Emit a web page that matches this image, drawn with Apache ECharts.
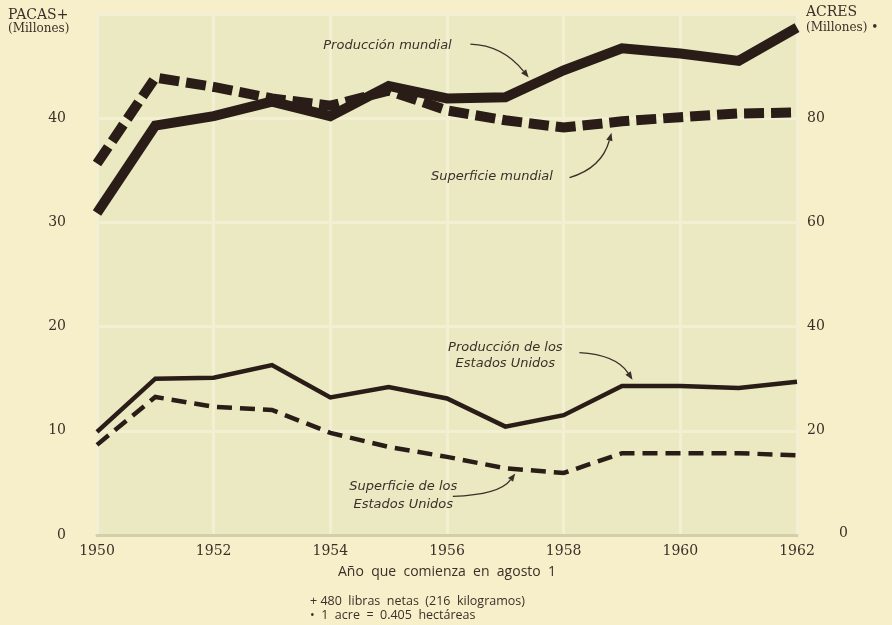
<!DOCTYPE html>
<html>
<head>
<meta charset="utf-8">
<script src="https://cdn.jsdelivr.net/npm/echarts@6/dist/echarts.min.js"></script>
<style>
  html, body { margin: 0; padding: 0; background: #f6efc9; }
  #chart { width: 892px; height: 625px; }
</style>
</head>
<body>
<div id="chart"></div>
<script>
// Algodón: producción (millones de pacas) y superficie (millones de acres)
const years = [1950, 1951, 1952, 1953, 1954, 1955, 1956, 1957, 1958, 1959, 1960, 1961, 1962];
const produccionMundial = [30.9, 39.3, 40.2, 41.6, 40.2, 43.1, 41.9, 42.0, 44.6, 46.7, 46.2, 45.5, 48.7];
const superficieMundial = [71.3, 87.8, 86.0, 83.8, 82.4, 85.3, 81.5, 79.6, 78.2, 79.4, 80.2, 80.9, 81.1];
const produccionEEUU = [9.9, 15.0, 15.1, 16.3, 13.2, 14.2, 13.1, 10.4, 11.5, 14.3, 14.3, 14.1, 14.7];
const superficieEEUU = [17.3, 26.5, 24.6, 24.0, 19.6, 16.9, 15.0, 12.8, 11.9, 15.7, 15.7, 15.7, 15.3];
const pacasTicks = [0, 10, 20, 30, 40, 50];
const acresTicks = [0, 20, 40, 60, 80, 100];

const INK = '#2a1c16';
const TEXT = '#3a302a';
const SERIF = '"DejaVu Serif", "Liberation Serif", serif';
const SANS = '"Open Sans", "Lato", sans-serif';
const NOTE = '"DejaVu Sans", "Open Sans", sans-serif';

const pairs = (vals) => years.map((y, i) => [y, vals[i]]);

const chart = echarts.init(document.getElementById('chart'), null, { renderer: 'canvas' });

const option = {
  backgroundColor: '#f6efc9',
  animation: false,
  grid: {
    left: 97, right: 95, top: 14, bottom: 90,
    show: true, backgroundColor: '#ebe9c1', borderColor: '#f2efd2', borderWidth: 2
  },
  xAxis: {
    type: 'value', min: 1950, max: 1962, interval: 2,
    axisLine: { show: true, onZero: false, lineStyle: { color: '#d3cfa6', width: 3 } },
    axisTick: { show: false },
    axisLabel: { color: TEXT, fontFamily: SERIF, fontSize: 14, margin: 9, formatter: (v) => String(v) },
    splitLine: { show: true, lineStyle: { color: '#f2efd2', width: 3 } }
  },
  yAxis: [
    {
      type: 'value', min: pacasTicks[0], max: pacasTicks[pacasTicks.length - 1], interval: 10,
      axisLine: { show: false }, axisTick: { show: false },
      axisLabel: {
        color: TEXT, fontFamily: SERIF, fontSize: 14, margin: 31,
        formatter: (v) => (v === 50 ? '' : String(v))
      },
      splitLine: { show: true, lineStyle: { color: '#f2efd2', width: 3 } }
    },
    {
      type: 'value', min: acresTicks[0], max: acresTicks[acresTicks.length - 1], interval: 20,
      position: 'right',
      axisLine: { show: false }, axisTick: { show: false },
      axisLabel: {
        color: TEXT, fontFamily: SERIF, fontSize: 14, margin: 10,
        formatter: (v) => (v === 100 ? '' : v === 0 ? '{z|0}' : String(v)),
        rich: { z: { color: TEXT, fontFamily: SERIF, fontSize: 14, padding: [-4, 0, 0, 32] } }
      },
      splitLine: { show: false }
    }
  ],
  series: [
    {
      name: 'Producción mundial', type: 'line', yAxisIndex: 0, data: pairs(produccionMundial),
      symbol: 'none', z: 4,
      lineStyle: { color: INK, width: 10, join: 'miter', cap: 'butt' }
    },
    {
      name: 'Superficie mundial', type: 'line', yAxisIndex: 1, data: pairs(superficieMundial),
      symbol: 'none', z: 5,
      lineStyle: { color: INK, width: 10, type: [20, 7], join: 'miter', cap: 'butt' }
    },
    {
      name: 'Producción de los Estados Unidos', type: 'line', yAxisIndex: 0, data: pairs(produccionEEUU),
      symbol: 'none', z: 4,
      lineStyle: { color: INK, width: 4.5, join: 'miter' }
    },
    {
      name: 'Superficie de los Estados Unidos', type: 'line', yAxisIndex: 1, data: pairs(superficieEEUU),
      symbol: 'none', z: 4,
      lineStyle: { color: INK, width: 4.5, type: [15, 8], join: 'miter', cap: 'butt' }
    }
  ]
};

chart.setOption(option);

// Pixel position of a point given in (year, millones de pacas)
const px = (p) => chart.convertToPixel({ xAxisIndex: 0, yAxisIndex: 0 }, p);

function label(lines, at, lineHeight) {
  const c = px(at);
  return lines.map((t, i) => ({
    type: 'text', z: 10,
    x: c[0], y: c[1] + i * lineHeight,
    style: {
      text: t, font: 'italic 13px ' + NOTE, fill: TEXT,
      align: 'center', verticalAlign: 'middle',
      textAlign: 'center', textVerticalAlign: 'middle'
    }
  }));
}

// Curved pointer from a label towards a line, ending in an arrowhead
function pointer(from, ctrl, to) {
  const a = px(from), c = px(ctrl), b = px(to);
  const dx = b[0] - c[0], dy = b[1] - c[1];
  const len = Math.hypot(dx, dy) || 1;
  const ux = dx / len, uy = dy / len;
  const hl = 8, hw = 3.2;
  const base = [b[0] - ux * hl, b[1] - uy * hl];
  return [
    {
      type: 'bezierCurve', z: 10,
      shape: { x1: a[0], y1: a[1], x2: base[0], y2: base[1], cpx1: c[0], cpy1: c[1] },
      style: { stroke: TEXT, lineWidth: 1.3, fill: null }
    },
    {
      type: 'polygon', z: 10,
      shape: { points: [b, [base[0] - uy * hw, base[1] + ux * hw], [base[0] + uy * hw, base[1] - ux * hw]] },
      style: { fill: TEXT }
    }
  ];
}

const w = chart.getWidth();
const graphics = [
  // axis titles
  { type: 'text', x: 8, y: 15, style: { text: 'PACAS+', font: '14px ' + SERIF, fill: TEXT, verticalAlign: 'middle', textVerticalAlign: 'middle' } },
  { type: 'text', x: 8, y: 29, style: { text: '(Millones)', font: '12px ' + SERIF, fill: TEXT, verticalAlign: 'middle', textVerticalAlign: 'middle' } },
  { type: 'text', x: 806, y: 12, style: { text: 'ACRES', font: '14px ' + SERIF, fill: TEXT, verticalAlign: 'middle', textVerticalAlign: 'middle' } },
  { type: 'text', x: 806, y: 28, style: { text: '(Millones) •', font: '12px ' + SERIF, fill: TEXT, verticalAlign: 'middle', textVerticalAlign: 'middle' } },
  // footer
  { type: 'text', x: 447, y: 572, style: { text: 'Año  que  comienza  en  agosto  1', font: '14px ' + SANS, fill: TEXT, align: 'center', textAlign: 'center', verticalAlign: 'middle', textVerticalAlign: 'middle' } },
  { type: 'text', x: 310, y: 601, style: { text: '+ 480  libras  netas  (216  kilogramos)', font: '12.5px ' + SANS, fill: TEXT, verticalAlign: 'middle', textVerticalAlign: 'middle' } },
  { type: 'text', x: 310, y: 615, style: { text: '•  1  acre  =  0.405  hectáreas', font: '12.5px ' + SANS, fill: TEXT, verticalAlign: 'middle', textVerticalAlign: 'middle' } }
];

graphics.push(...label(['Producción mundial'], [1954.98, 47.0], 0));
graphics.push(...pointer([1956.4, 47.1], [1956.95, 47.0], [1957.4, 43.9]));

graphics.push(...label(['Superficie mundial'], [1956.77, 34.4], 0));
graphics.push(...pointer([1958.1, 34.3], [1958.65, 35.2], [1958.82, 38.6]));

graphics.push(...label(['Producción de los', 'Estados Unidos'], [1957.0, 18.0], 16));
graphics.push(...pointer([1958.27, 17.5], [1958.9, 17.3], [1959.18, 14.9]));

graphics.push(...label(['Superficie de los', 'Estados Unidos'], [1955.25, 4.6], 18));
graphics.push(...pointer([1956.1, 3.7], [1956.9, 3.85], [1957.17, 5.9]));

chart.setOption({ graphic: graphics });
</script>
</body>
</html>
